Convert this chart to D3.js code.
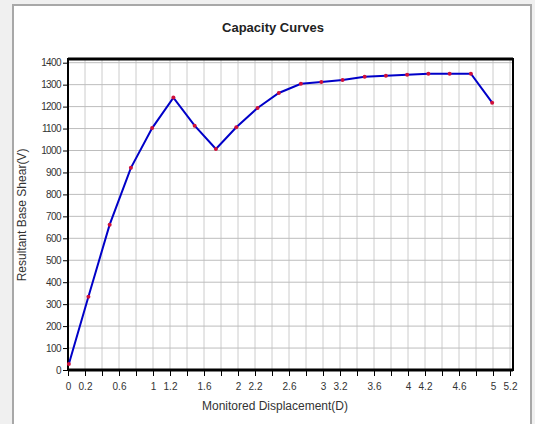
<!DOCTYPE html>
<html>
<head>
<meta charset="utf-8">
<script src="https://cdn.jsdelivr.net/npm/d3@7"></script>
<style>
  body { margin: 0; background: #f0f0f0; }
  text { font-family: "Liberation Sans", Arial, sans-serif; }
</style>
</head>
<body>
<div id="chart-container"></div>
<script>
// data
const displacement = [0.01, 0.24, 0.49, 0.74, 0.99, 1.24, 1.49, 1.74, 1.98, 2.23, 2.48,
                      2.74, 2.98, 3.23, 3.49, 3.74, 3.99, 4.24, 4.49, 4.74, 4.99];
const baseShear = [27, 334, 662, 921, 1102, 1241, 1113, 1007, 1106, 1194, 1262,
                   1304, 1312, 1321, 1336, 1341, 1345, 1350, 1350, 1350, 1218];
const xTickLabels = [0, 0.2, 0.6, 1, 1.2, 1.6, 2, 2.2, 2.6, 3, 3.2, 3.6, 4, 4.2, 4.6, 5, 5.2];
const yTicks = d3.range(0, 1401, 100);

const W = 535, H = 424;
const margin = {top: 59, right: 22, bottom: 54, left: 68};
const width = W - margin.left - margin.right;
const height = H - margin.top - margin.bottom;

const svg = d3.select("#chart-container")
  .append("svg")
    .attr("width", W)
    .attr("height", H);

// white panel with grey frame
svg.append("rect")
  .attr("x", 13).attr("y", 5)
  .attr("width", 518).attr("height", 425)
  .attr("fill", "#fff")
  .attr("stroke", "#a8a8a8")
  .attr("stroke-width", 2);

svg.append("text")
  .attr("x", 273).attr("y", 32)
  .attr("text-anchor", "middle")
  .style("font-size", "13px")
  .style("font-weight", "bold")
  .attr("fill", "#222")
  .text("Capacity Curves");

const g = svg.append("g")
  .attr("transform", `translate(${margin.left},${margin.top})`);

const x = d3.scaleLinear().domain([0, 5.2]).range([0, 442]);
const y = d3.scaleLinear().domain([0, 1400]).range([height, height - 1400 * 0.2195]);

// grid
const xGrid = d3.range(0, 5.21, 0.2);
g.append("g").selectAll("line")
  .data(xGrid)
  .join("line")
    .attr("x1", d => x(d)).attr("x2", d => x(d))
    .attr("y1", 0).attr("y2", height)
    .attr("stroke", "#cccccc");
g.append("g").selectAll("line")
  .data(yTicks)
  .join("line")
    .attr("x1", 0).attr("x2", width)
    .attr("y1", d => y(d)).attr("y2", d => y(d))
    .attr("stroke", "#bdbdbd");

// frame
g.append("rect")
  .attr("width", width).attr("height", height)
  .attr("fill", "none")
  .attr("stroke", "#000")
  .attr("stroke-width", 2);
g.append("line")
  .attr("x1", 0).attr("x2", width).attr("y1", 0).attr("y2", 0)
  .attr("stroke", "#000").attr("stroke-width", 3);
g.append("line")
  .attr("x1", 0).attr("x2", width).attr("y1", height).attr("y2", height)
  .attr("stroke", "#000").attr("stroke-width", 3);

// axes
const xAxis = g.append("g")
  .attr("transform", `translate(0,${height})`)
  .call(d3.axisBottom(x)
    .tickValues(xGrid)
    .tickSize(6)
    .tickFormat(d => {
      const r = Math.round(d * 10) / 10;
      return xTickLabels.some(v => Math.abs(v - r) < 1e-6) ? d3.format("~g")(r) : "";
    }));
xAxis.select(".domain").remove();
xAxis.selectAll(".tick line").attr("stroke", "#000");
xAxis.selectAll("text")
  .attr("dy", "1.05em")
  .attr("fill", "#333")
  .style("font-size", "10px");

const yAxis = g.append("g")
  .call(d3.axisLeft(y).tickValues(yTicks).tickSize(5).tickPadding(2).tickFormat(d3.format("d")));
yAxis.select(".domain").remove();
yAxis.selectAll(".tick line").attr("stroke", "#000");
yAxis.selectAll("text")
  .attr("fill", "#333")
  .style("font-size", "10px")
  .style("letter-spacing", "-0.6px");

// curve
const pts = displacement.map((d, i) => [d, baseShear[i]]);
g.append("path")
  .datum(pts)
  .attr("fill", "none")
  .attr("stroke", "#0000c8")
  .attr("stroke-width", 2)
  .attr("d", d3.line().x(d => x(d[0])).y(d => y(d[1])));

g.append("g").selectAll("circle")
  .data(pts)
  .join("circle")
    .attr("cx", d => x(d[0]))
    .attr("cy", d => y(d[1]))
    .attr("r", 2)
    .attr("fill", "#d0103a");

// axis labels
svg.append("text")
  .attr("x", 275).attr("y", 410)
  .attr("text-anchor", "middle")
  .style("font-size", "12px")
  .attr("fill", "#333")
  .text("Monitored Displacement(D)");

svg.append("text")
  .attr("transform", "rotate(-90)")
  .attr("x", -215).attr("y", 26)
  .attr("text-anchor", "middle")
  .style("font-size", "12px")
  .attr("fill", "#333")
  .text("Resultant Base Shear(V)");
</script>
</body>
</html>
